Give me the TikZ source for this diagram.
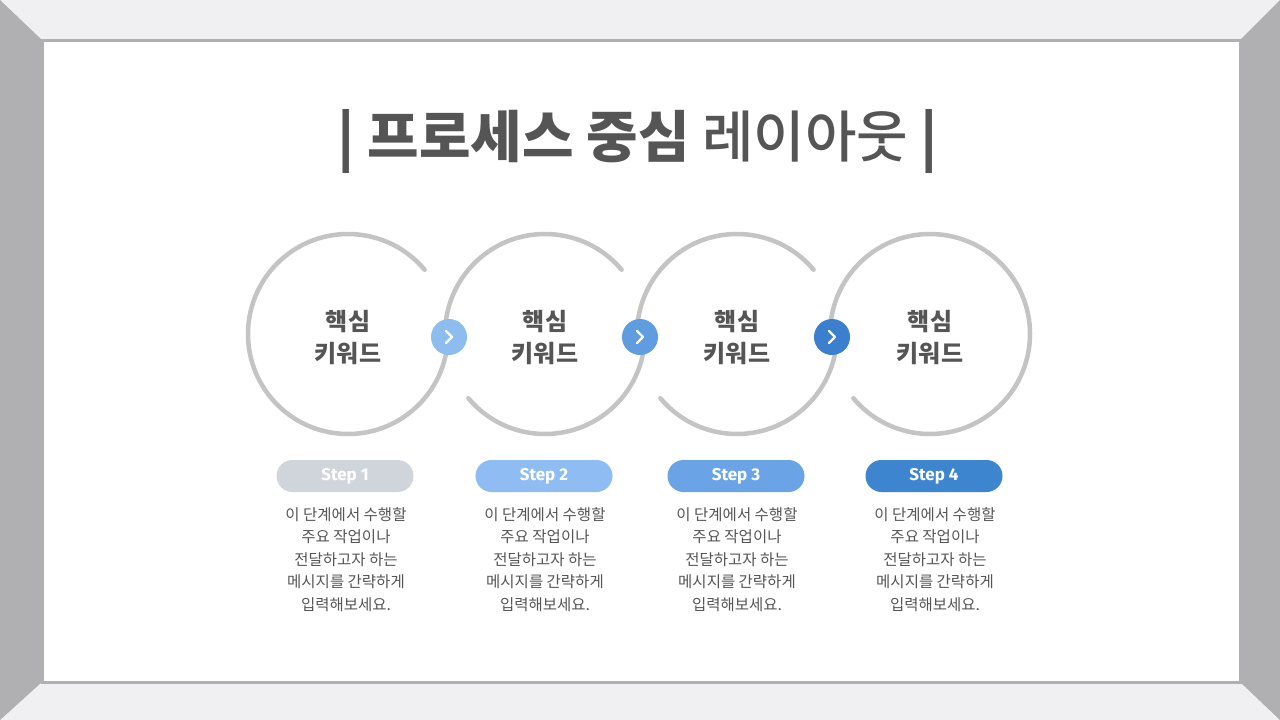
\documentclass[tikz,border=0pt]{standalone}
\usepackage{fontspec}
\setmainfont{Noto Sans CJK KR}
\newfontfamily\kb{Noto Sans CJK KR Black}
\newfontfamily\km{Noto Sans CJK KR Medium}
\newfontfamily\stepf{Fira Sans}[BoldFont={* Bold}]
\definecolor{txt}{HTML}{555555}
\definecolor{ring}{HTML}{C4C4C4}
\definecolor{frameL}{HTML}{F0F0F2}
\definecolor{frameD}{HTML}{B0B0B2}
\definecolor{sA}{HTML}{D0D5DB}
\definecolor{sB}{HTML}{8FBDF3}
\definecolor{sC}{HTML}{6AA3E6}
\definecolor{sD}{HTML}{3D85CF}
\definecolor{aA}{HTML}{8DBCEF}
\definecolor{aB}{HTML}{5F9DE0}
\definecolor{aC}{HTML}{3B7FCF}
\tikzset{
 ringline/.style={draw=ring,line width=4.5pt,line cap=round},
 arrowdot/.style={circle,minimum size=36pt,inner sep=0pt},
 pill/.style={rounded corners=16pt,minimum width=137pt,minimum height=32pt,inner sep=0pt,text=white,font=\stepf\bfseries\fontsize{17}{17}\selectfont},
 desc/.style={align=center,text=txt,font=\fontsize{15.5}{22.5}\selectfont},
 key/.style={align=center,text=txt,font=\kb\fontsize{24}{32}\selectfont},
}
\begin{document}
\begin{tikzpicture}[x=1pt,y=-1pt]
\useasboundingbox (0,0) rectangle (1280,720);
\fill[frameL] (0,0) rectangle (1280,720);
\fill[frameD] (0,0) -- (42,40) -- (42,682) -- (0,720) -- cycle;
\fill[frameD] (1280,0) -- (1240,40) -- (1240,682) -- (1280,720) -- cycle;
\fill[white] (42,40) rectangle (1240,682);
\draw[frameD,line width=3pt] (42,40) rectangle (1240,682);
\node[text=txt,font=\km\fontsize{56}{56}\selectfont] (title) at (638,141) {{\kb |} {\kb 프로세스 중심} 레이아웃 {\kb |}};
\coordinate (c1) at (348,334); \coordinate (c2) at (545,334);
\coordinate (c3) at (737,334); \coordinate (c4) at (930,334);
\draw[ringline] ([shift={(-40:100)}]c1) arc[start angle=-40,end angle=-360,radius=100];
\foreach \c in {c2,c3}{
 \draw[ringline] ([shift={(-40:100)}]\c) arc[start angle=-40,end angle=-180,radius=100];
 \draw[ringline] ([shift={(-220:100)}]\c) arc[start angle=-220,end angle=-360,radius=100];
}
\draw[ringline] ([shift={(-220:100)}]c4) arc[start angle=-220,end angle=-540,radius=100];
\foreach \c in {c1,c2,c3,c4}{ \node[key] at ([yshift=-3.5pt]\c) {핵심\\키워드}; }
\foreach \x/\col/\n in {449/aA/a1,640/aB/a2,832/aC/a3}{
 \node[arrowdot,fill=\col] (\n) at (\x,337) {};
 \draw[white,line width=2.3pt,line cap=round,line join=round] ([shift={(-3,-6)}]\n.center) -- ([shift={(3,0)}]\n.center) -- ([shift={(-3,6)}]\n.center);
}
\foreach \x/\col/\lab/\n in {345/sA/Step 1/p1,544/sB/Step 2/p2,736/sC/Step 3/p3,934/sD/Step 4/p4}{
 \node[pill,fill=\col] (\n) at (\x,476) {\lab};
 \node[desc,anchor=north] (d\n) at (\x+1,504) {이 단계에서 수행할\\주요 작업이나\\전달하고자 하는\\메시지를 간략하게\\입력해보세요.};
}
\end{tikzpicture}
\end{document}
